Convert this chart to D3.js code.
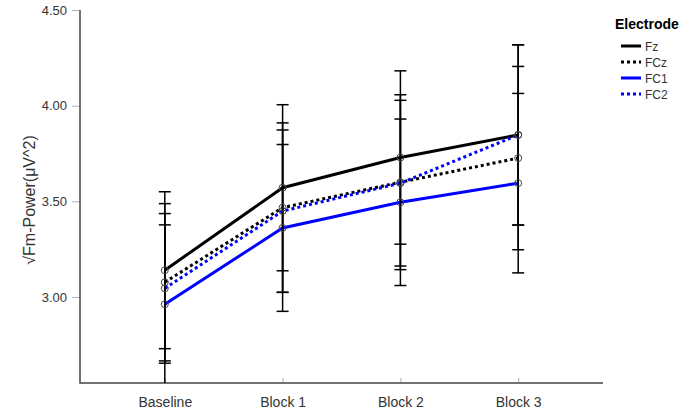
<!DOCTYPE html>
<html>
<head>
<meta charset="utf-8">
<script src="https://cdn.jsdelivr.net/npm/d3@7"></script>
<style>
  html, body { margin: 0; padding: 0; background: #fff; }
  svg { display: block; font-family: "Liberation Sans", Arial, sans-serif; }
</style>
</head>
<body>
<svg id="chart" width="681" height="417"></svg>
<script>
// Conditions on the x axis
const categories = ["Baseline", "Block 1", "Block 2", "Block 3"];

// Electrode names
const electrodes = ["Fz", "FCz", "FC1", "FC2"];

// Mean √Fm-Power per electrode and condition
const meanFz  = [3.14, 3.571, 3.729, 3.847];
const meanFCz = [3.077, 3.467, 3.600, 3.726];
const meanFC1 = [2.962, 3.361, 3.495, 3.595];
const meanFC2 = [3.045, 3.449, 3.595, 3.847];

// Error bar half-widths (symmetric intervals)
const errFz  = [0.41, 0.434, 0.453, 0.471];
const errFCz = [0.411, 0.443, 0.457, 0.479];
const errFC1 = [0.415, 0.436, 0.435, 0.469];
const errFC2 = [0.391, 0.424, 0.433, 0.471];

// Y axis tick values and labels
const yTicks = [3.0, 3.5, 4.0, 4.5];
const yTickLabels = ["3.00", "3.50", "4.00", "4.50"];

const yLabel = "\u221AFm-Power(\u03BCV^2)";
const legendTitle = "Electrode";

const series = [
  { name: electrodes[0], mean: meanFz,  err: errFz,  color: "#000000", dash: null },
  { name: electrodes[1], mean: meanFCz, err: errFCz, color: "#000000", dash: "3,3" },
  { name: electrodes[2], mean: meanFC1, err: errFC1, color: "#0000ff", dash: null },
  { name: electrodes[3], mean: meanFC2, err: errFC2, color: "#0000ff", dash: "3,3" }
];

const svg = d3.select("#chart");
const plotLeft = 80, plotRight = 603, plotTop = 10, plotBottom = 383;

const x = d3.scalePoint().domain(categories).range([plotLeft, plotRight]).padding(0.72);
const y = d3.scaleLinear().domain([2.5505, 4.5]).range([plotBottom, plotTop]);

svg.append("defs").append("clipPath").attr("id", "plotClip")
  .append("rect").attr("x", plotLeft).attr("y", 0)
  .attr("width", plotRight - plotLeft).attr("height", plotBottom);

// Y axis
const yAxis = svg.append("g").attr("transform", `translate(${plotLeft},0)`)
  .call(d3.axisLeft(y).tickValues(yTicks).tickFormat((d, i) => yTickLabels[i]).tickSize(8).tickPadding(5));
yAxis.select(".domain").remove();
yAxis.selectAll(".tick line").attr("stroke", "#b0b0b0").attr("stroke-width", 1);
yAxis.selectAll(".tick text").attr("fill", "#333").style("font-size", "13px")
  .style("font-family", "Liberation Sans, Arial, sans-serif");

// X axis
const xAxis = svg.append("g").attr("transform", `translate(0,${plotBottom})`)
  .call(d3.axisBottom(x).tickSize(-5).tickPadding(14));
xAxis.select(".domain").remove();
xAxis.selectAll(".tick line").attr("stroke", "#b0b0b0").attr("stroke-width", 1);
xAxis.selectAll(".tick text").attr("fill", "#333").style("font-size", "14px")
  .style("font-family", "Liberation Sans, Arial, sans-serif");

// Axis lines
svg.append("path")
  .attr("d", `M${plotLeft},${plotTop}V${plotBottom}H${plotRight}`)
  .attr("fill", "none").attr("stroke", "#444").attr("stroke-width", 1.5);

// Y axis title
svg.append("text")
  .attr("transform", `translate(35,200) rotate(-90)`)
  .attr("text-anchor", "middle")
  .attr("fill", "#333")
  .style("font-size", "16px")
  .text(yLabel);

const plot = svg.append("g").attr("clip-path", "url(#plotClip)");

// Mean lines
const line = d3.line().x((d, i) => x(categories[i])).y(d => y(d));
series.forEach(s => {
  plot.append("path")
    .datum(s.mean)
    .attr("d", line)
    .attr("fill", "none")
    .attr("stroke", s.color)
    .attr("stroke-width", 3)
    .attr("stroke-dasharray", s.dash);
});

// Error bars
const capHalf = 6;
series.forEach(s => {
  const g = plot.append("g").attr("stroke", "#000").attr("stroke-width", 1.5);
  s.mean.forEach((m, i) => {
    const cx = x(categories[i]);
    const hi = y(m + s.err[i]), lo = y(m - s.err[i]);
    g.append("line").attr("x1", cx).attr("x2", cx).attr("y1", hi).attr("y2", lo);
    g.append("line").attr("x1", cx - capHalf).attr("x2", cx + capHalf).attr("y1", hi).attr("y2", hi);
    g.append("line").attr("x1", cx - capHalf).attr("x2", cx + capHalf).attr("y1", lo).attr("y2", lo);
  });
});

// Mean markers
series.forEach(s => {
  plot.selectAll(null).data(s.mean).enter().append("circle")
    .attr("cx", (d, i) => x(categories[i]))
    .attr("cy", d => y(d))
    .attr("r", 3.5)
    .attr("fill", "none")
    .attr("stroke", "#444")
    .attr("stroke-width", 1);
});

// Legend
const legend = svg.append("g");
legend.append("text")
  .attr("x", 615).attr("y", 29)
  .attr("fill", "#000")
  .style("font-size", "14px").style("font-weight", "bold")
  .text(legendTitle);
series.forEach((s, i) => {
  const ly = 46 + i * 16;
  legend.append("line")
    .attr("x1", 621).attr("x2", 641).attr("y1", ly).attr("y2", ly)
    .attr("stroke", s.color).attr("stroke-width", 3)
    .attr("stroke-dasharray", s.dash);
  legend.append("text")
    .attr("x", 645).attr("y", ly + 4.5)
    .attr("fill", "#333")
    .style("font-size", "12px")
    .text(s.name);
});
</script>
</body>
</html>
